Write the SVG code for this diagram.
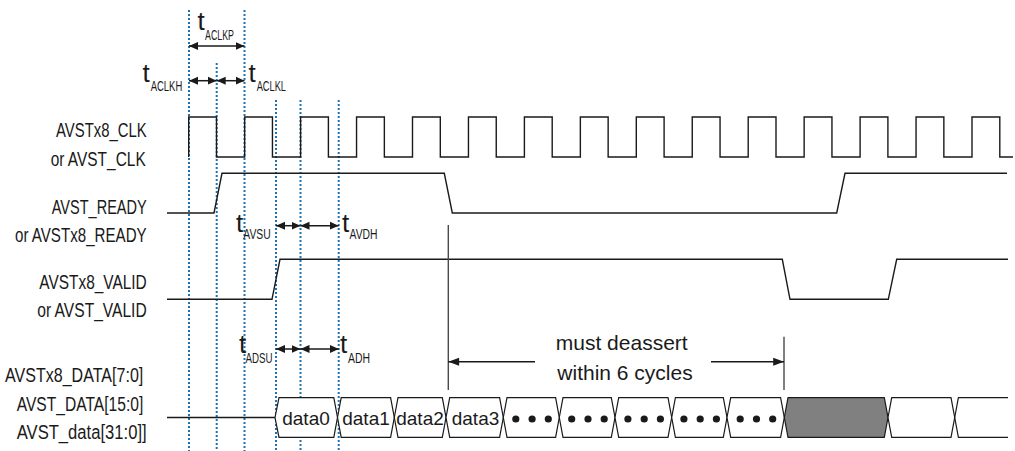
<svg xmlns="http://www.w3.org/2000/svg" width="1015" height="451" viewBox="0 0 1015 451">
<style>
.lbl{font-family:"Liberation Sans",Arial,sans-serif;font-size:19.5px;fill:#1a1a1a}
.t{font-family:"Liberation Sans",Arial,sans-serif;font-size:26px;fill:#1a1a1a}
.sub{font-family:"Liberation Sans",Arial,sans-serif;font-size:14px;fill:#1a1a1a}
.dat{font-family:"Liberation Sans",Arial,sans-serif;font-size:19px;fill:#1a1a1a;text-anchor:middle}
.big{font-family:"Liberation Sans",Arial,sans-serif;font-size:21px;fill:#1a1a1a;text-anchor:middle}
.wave{fill:none;stroke:#1a1a1a;stroke-width:1.4}
.cell{fill:#fff;stroke:#1a1a1a;stroke-width:1.2}
.grid{stroke:#2272ad;stroke-width:2;stroke-dasharray:2 2}
.arr{stroke:#1a1a1a;stroke-width:1.5;fill:none}
.mark{stroke:#4a4a4a;stroke-width:1.4}
</style>
<defs>
<marker id="ah" viewBox="0 0 10 10" refX="10" refY="5" markerWidth="9" markerHeight="9" markerUnits="userSpaceOnUse" orient="auto-start-reverse">
<path d="M0,0.5 L10,5 L0,9.5 Z" fill="#1a1a1a"/>
</marker>
<marker id="ahb" viewBox="0 0 12 10" refX="12" refY="5" markerWidth="12" markerHeight="9" markerUnits="userSpaceOnUse" orient="auto-start-reverse">
<path d="M0,0.5 L12,5 L0,9.5 Z" fill="#1a1a1a"/>
</marker>
</defs>
<rect width="1015" height="451" fill="#fff"/>

<g id="gridlines">
<line class="grid" x1="189" y1="10" x2="189" y2="451"/>
<line class="grid" x1="216.7" y1="63" x2="216.7" y2="451"/>
<line class="grid" x1="244.5" y1="10" x2="244.5" y2="451"/>
<line class="grid" x1="276" y1="100" x2="276" y2="451"/>
<line class="grid" x1="300.5" y1="100" x2="300.5" y2="451"/>
<line class="grid" x1="338.7" y1="100" x2="338.7" y2="451"/>
</g>

<g id="labels">
<text class="lbl" x="56" y="137.3" textLength="90.7" lengthAdjust="spacingAndGlyphs">AVSTx8_CLK</text>
<text class="lbl" x="50.7" y="166" textLength="95" lengthAdjust="spacingAndGlyphs">or AVST_CLK</text>
<text class="lbl" x="51.7" y="214" textLength="95" lengthAdjust="spacingAndGlyphs">AVST_READY</text>
<text class="lbl" x="15" y="242.3" textLength="131.7" lengthAdjust="spacingAndGlyphs">or AVSTx8_READY</text>
<text class="lbl" x="39.3" y="289" textLength="107.4" lengthAdjust="spacingAndGlyphs">AVSTx8_VALID</text>
<text class="lbl" x="37.3" y="317.3" textLength="109.4" lengthAdjust="spacingAndGlyphs">or AVST_VALID</text>
<text class="lbl" x="5" y="382.3" textLength="138.3" lengthAdjust="spacingAndGlyphs">AVSTx8_DATA[7:0]</text>
<text class="lbl" x="16.7" y="410.6" textLength="126.6" lengthAdjust="spacingAndGlyphs">AVST_DATA[15:0]</text>
<text class="lbl" x="16.7" y="438.9" textLength="130" lengthAdjust="spacingAndGlyphs">AVST_data[31:0]]</text>
</g>

<g id="clk">
<path class="wave" d="M188.7,157 V117 H216.5 V157 H244.65 V117 H272.45 V157 H300.6 V117 H328.4 V157 H356.55 V117 H384.35 V157 H412.5 V117 H440.3 V157 H468.45 V117 H496.25 V157 H524.4 V117 H552.2 V157 H580.35 V117 H608.15 V157 H636.3 V117 H664.1 V157 H692.25 V117 H720.05 V157 H748.2 V117 H776 V157 H804.15 V117 H831.95 V157 H860.1 V117 H887.9 V157 H916.05 V117 H943.85 V157 H972 V117 H999.8 V157 H1013"/>
</g>

<g id="ready">
<path class="wave" d="M167,213 H214 L222,173.3 H444.3 L452.3,213 H836.7 L845,173.3 H1007"/>
</g>

<g id="valid">
<path class="wave" d="M167,299.3 H272 L280,259.3 H782.3 L790,299.3 H888.3 L896.7,259.3 H1008"/>
</g>

<g id="data">
<path class="wave" d="M167,417.5 H275"/>
<polygon class="cell" points="275,417.5 279,397.7 333.8,397.7 337.5,417.5 333.8,437.3 279,437.3"/>
<polygon class="cell" points="337.5,417.5 341.2,397.7 390.6,397.7 394.3,417.5 390.6,437.3 341.2,437.3"/>
<polygon class="cell" points="394.3,417.5 398,397.7 442.3,397.7 446,417.5 442.3,437.3 398,437.3"/>
<polygon class="cell" points="446,417.5 449.7,397.7 499.6,397.7 503.3,417.5 499.6,437.3 449.7,437.3"/>
<polygon class="cell" points="503.3,417.5 507,397.7 555.6,397.7 559.3,417.5 555.6,437.3 507,437.3"/>
<polygon class="cell" points="559.3,417.5 563,397.7 611.3,397.7 615,417.5 611.3,437.3 563,437.3"/>
<polygon class="cell" points="615,417.5 618.7,397.7 668,397.7 671.7,417.5 668,437.3 618.7,437.3"/>
<polygon class="cell" points="671.7,417.5 675.4,397.7 723.3,397.7 727,417.5 723.3,437.3 675.4,437.3"/>
<polygon class="cell" points="727,417.5 730.7,397.7 780.6,397.7 784.3,417.5 780.6,437.3 730.7,437.3"/>
<polygon class="cell" style="fill:#808080" points="784.3,417.5 788,397.7 884.3,397.7 888,417.5 884.3,437.3 788,437.3"/>
<polygon class="cell" points="888,417.5 891.7,397.7 951,397.7 954.7,417.5 951,437.3 891.7,437.3"/>
<path class="cell" style="fill:none" d="M1008,397.7 H958.4 L954.7,417.5 L958.4,437.3 H1008"/>
<text class="dat" x="306" y="424.8">data0</text>
<text class="dat" x="366" y="424.8">data1</text>
<text class="dat" x="420" y="424.8">data2</text>
<text class="dat" x="475.5" y="424.8">data3</text>
<g fill="#1a1a1a">
<circle cx="515.8" cy="419" r="3.6"/><circle cx="532.1" cy="419" r="3.6"/><circle cx="548.3" cy="419" r="3.6"/>
<circle cx="571.7" cy="419" r="3.6"/><circle cx="588" cy="419" r="3.6"/><circle cx="604.2" cy="419" r="3.6"/>
<circle cx="627.9" cy="419" r="3.6"/><circle cx="644.2" cy="419" r="3.6"/><circle cx="660.4" cy="419" r="3.6"/>
<circle cx="683.9" cy="419" r="3.6"/><circle cx="700.2" cy="419" r="3.6"/><circle cx="716.4" cy="419" r="3.6"/>
<circle cx="740.2" cy="419" r="3.6"/><circle cx="756.5" cy="419" r="3.6"/><circle cx="772.7" cy="419" r="3.6"/>
</g>
</g>

<g id="timing-labels">
<text class="t" x="197.5" y="29.5">t</text><text class="sub" x="205" y="39.7" textLength="29" lengthAdjust="spacingAndGlyphs">ACLKP</text>
<text class="t" x="142.5" y="81.5">t</text><text class="sub" x="150.7" y="90.9" textLength="31.6" lengthAdjust="spacingAndGlyphs">ACLKH</text>
<text class="t" x="248.5" y="81.5">t</text><text class="sub" x="256.7" y="90.9" textLength="29.3" lengthAdjust="spacingAndGlyphs">ACLKL</text>
<text class="t" x="236" y="231.7">t</text><text class="sub" x="243.3" y="238.7" textLength="27.4" lengthAdjust="spacingAndGlyphs">AVSU</text>
<text class="t" x="342" y="231.7">t</text><text class="sub" x="349.5" y="238.7" textLength="28" lengthAdjust="spacingAndGlyphs">AVDH</text>
<text class="t" x="239" y="353">t</text><text class="sub" x="245.5" y="362.9" textLength="27" lengthAdjust="spacingAndGlyphs">ADSU</text>
<text class="t" x="340" y="353">t</text><text class="sub" x="348" y="362.9" textLength="22" lengthAdjust="spacingAndGlyphs">ADH</text>
</g>

<g id="deassert-note">
<text class="big" x="621.7" y="350">must deassert</text>
<text class="big" x="625" y="380">within 6 cycles</text>
</g>

<g id="connectors">
<line class="arr" x1="189" y1="46" x2="244.5" y2="46" marker-start="url(#ah)" marker-end="url(#ah)"/>
<line class="arr" x1="189" y1="80.7" x2="216.7" y2="80.7" marker-start="url(#ah)" marker-end="url(#ah)"/>
<line class="arr" x1="216.7" y1="80.7" x2="244.5" y2="80.7" marker-start="url(#ah)" marker-end="url(#ah)"/>
<line class="arr" x1="276" y1="225.7" x2="300.5" y2="225.7" marker-start="url(#ah)" marker-end="url(#ah)"/>
<line class="arr" x1="300.5" y1="225.7" x2="338.7" y2="225.7" marker-start="url(#ah)" marker-end="url(#ah)"/>
<line class="arr" x1="276" y1="349" x2="300.5" y2="349" marker-start="url(#ah)" marker-end="url(#ah)"/>
<line class="arr" x1="300.5" y1="349" x2="338.7" y2="349" marker-start="url(#ah)" marker-end="url(#ah)"/>
<line class="mark" x1="448.3" y1="225" x2="448.3" y2="390"/>
<line class="mark" x1="784" y1="336.7" x2="784" y2="390"/>
<line class="arr" x1="535" y1="361.7" x2="448.3" y2="361.7" marker-end="url(#ahb)"/>
<line class="arr" x1="711" y1="361.7" x2="784" y2="361.7" marker-end="url(#ahb)"/>
</g>
</svg>
